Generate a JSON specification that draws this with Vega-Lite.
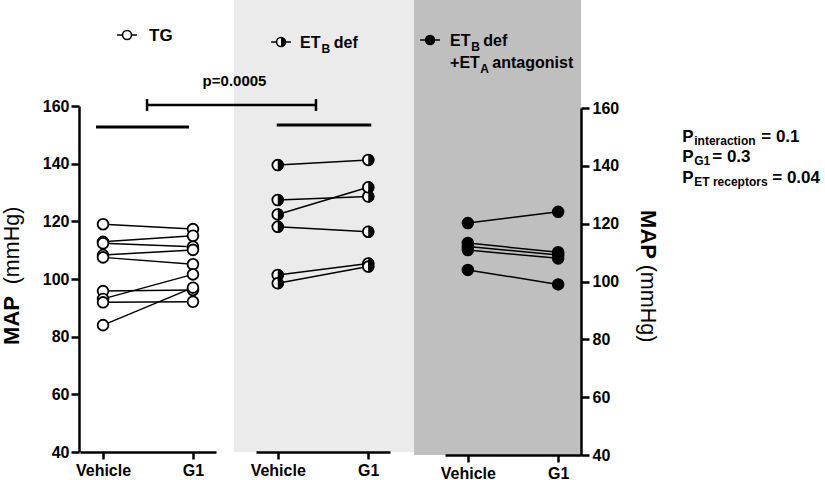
{
 "$schema": "https://vega.github.io/schema/vega-lite/v6.json",
 "padding": 0,
 "background": "white",
 "bounds": "flush",
 "spacing": 0,
 "config": {
  "view": {"stroke": null},
  "font": "Liberation Sans",
  "axis": {"domainColor": "black", "domainWidth": 2.5, "tickColor": "black", "tickWidth": 2.5, "tickSize": 8, "labelFont": "Liberation Sans", "labelFontWeight": "bold", "labelFontSize": 16, "labelColor": "black", "grid": false, "titleFont": "Liberation Sans", "titleColor": "black"},
  "text": {"font": "Liberation Sans", "fontWeight": "bold", "color": "black"}
 },
 "datasets": {
  "map": [
   {"group": "TG", "subject": "TG-1", "treatment": "Vehicle", "map": 119.0},
   {"group": "TG", "subject": "TG-1", "treatment": "G1", "map": 117.3},
   {"group": "TG", "subject": "TG-2", "treatment": "Vehicle", "map": 112.9},
   {"group": "TG", "subject": "TG-2", "treatment": "G1", "map": 115.0},
   {"group": "TG", "subject": "TG-3", "treatment": "Vehicle", "map": 112.4},
   {"group": "TG", "subject": "TG-3", "treatment": "G1", "map": 111.2},
   {"group": "TG", "subject": "TG-4", "treatment": "Vehicle", "map": 108.3},
   {"group": "TG", "subject": "TG-4", "treatment": "G1", "map": 110.1},
   {"group": "TG", "subject": "TG-5", "treatment": "Vehicle", "map": 107.5},
   {"group": "TG", "subject": "TG-5", "treatment": "G1", "map": 105.1},
   {"group": "TG", "subject": "TG-6", "treatment": "Vehicle", "map": 95.8},
   {"group": "TG", "subject": "TG-6", "treatment": "G1", "map": 96.2},
   {"group": "TG", "subject": "TG-7", "treatment": "Vehicle", "map": 93.1},
   {"group": "TG", "subject": "TG-7", "treatment": "G1", "map": 101.6},
   {"group": "TG", "subject": "TG-8", "treatment": "Vehicle", "map": 91.9},
   {"group": "TG", "subject": "TG-8", "treatment": "G1", "map": 92.1},
   {"group": "TG", "subject": "TG-9", "treatment": "Vehicle", "map": 84.0},
   {"group": "TG", "subject": "TG-9", "treatment": "G1", "map": 97.0},
   {"group": "ETB def", "subject": "ETB-1", "treatment": "Vehicle", "map": 139.5},
   {"group": "ETB def", "subject": "ETB-1", "treatment": "G1", "map": 141.3},
   {"group": "ETB def", "subject": "ETB-2", "treatment": "Vehicle", "map": 127.4},
   {"group": "ETB def", "subject": "ETB-2", "treatment": "G1", "map": 128.6},
   {"group": "ETB def", "subject": "ETB-3", "treatment": "Vehicle", "map": 122.4},
   {"group": "ETB def", "subject": "ETB-3", "treatment": "G1", "map": 131.8},
   {"group": "ETB def", "subject": "ETB-4", "treatment": "Vehicle", "map": 118.1},
   {"group": "ETB def", "subject": "ETB-4", "treatment": "G1", "map": 116.4},
   {"group": "ETB def", "subject": "ETB-5", "treatment": "Vehicle", "map": 101.4},
   {"group": "ETB def", "subject": "ETB-5", "treatment": "G1", "map": 105.4},
   {"group": "ETB def", "subject": "ETB-6", "treatment": "Vehicle", "map": 98.5},
   {"group": "ETB def", "subject": "ETB-6", "treatment": "G1", "map": 104.3},
   {"group": "ETB def + ETA antagonist", "subject": "ETA-1", "treatment": "Vehicle", "map": 120.2},
   {"group": "ETB def + ETA antagonist", "subject": "ETA-1", "treatment": "G1", "map": 124.1},
   {"group": "ETB def + ETA antagonist", "subject": "ETA-2", "treatment": "Vehicle", "map": 113.3},
   {"group": "ETB def + ETA antagonist", "subject": "ETA-2", "treatment": "G1", "map": 110.1},
   {"group": "ETB def + ETA antagonist", "subject": "ETA-3", "treatment": "Vehicle", "map": 112.1},
   {"group": "ETB def + ETA antagonist", "subject": "ETA-3", "treatment": "G1", "map": 109.2},
   {"group": "ETB def + ETA antagonist", "subject": "ETA-4", "treatment": "Vehicle", "map": 110.9},
   {"group": "ETB def + ETA antagonist", "subject": "ETA-4", "treatment": "G1", "map": 108.0},
   {"group": "ETB def + ETA antagonist", "subject": "ETA-5", "treatment": "Vehicle", "map": 104.0},
   {"group": "ETB def + ETA antagonist", "subject": "ETA-5", "treatment": "G1", "map": 99.0}
  ]
 },
 "hconcat": [
  {"width": 79, "height": 452, "data": {"values": [{}]}, "mark": {"type": "text", "text": ""}},
  {
   "width": 155, "height": 452,
   "layer": [
    {"data": {"name": "map"}, "transform": [{"filter": "datum.group == 'TG'"}],
     "mark": {"type": "line", "color": "black", "strokeWidth": 1.5},
     "encoding": {
      "x": {"field": "treatment", "type": "nominal", "sort": null, "scale": {"type": "point", "domain": ["Vehicle", "G1"], "range": [1, 137], "padding": 0.256}, "axis": {"title": null, "labelAngle": 0, "tickSize": 7, "labelPadding": 3}},
      "y": {"field": "map", "type": "quantitative", "scale": {"domain": [40, 160], "range": [452, 106], "nice": false, "zero": false}, "axis": {"orient": "left", "values": [40, 60, 80, 100, 120, 140, 160], "labelPadding": 2, "title": "MAP", "titleFontSize": 22, "titleFontWeight": "bold", "titleAngle": -90, "titleX": -61, "titleY": 320, "titleAlign": "center", "titleBaseline": "alphabetic"}},
      "detail": {"field": "subject"}
     }},
    {"data": {"name": "map"}, "transform": [{"filter": "datum.group == 'TG'"}],
     "mark": {"type": "point", "shape": "circle", "filled": true, "fill": "white", "stroke": "black", "strokeWidth": 1.8, "size": 115, "opacity": 1},
     "encoding": {
      "x": {"field": "treatment", "type": "nominal", "sort": null},
      "y": {"field": "map", "type": "quantitative", "axis": {"orient": "left", "domain": false, "ticks": false, "labels": false, "title": "(mmHg)", "titleFontSize": 21.5, "titleFontWeight": "normal", "titleAngle": -90, "titleX": -61, "titleY": 245, "titleAlign": "center", "titleBaseline": "alphabetic"}}
     }},
    {"data": {"values": [{}]},
     "mark": {"type": "rule", "color": "black", "strokeWidth": 3, "xOffset": -7, "x2Offset": -4},
     "encoding": {"x": {"datum": "Vehicle", "type": "nominal"}, "x2": {"datum": "G1"}, "y": {"datum": 152.7, "type": "quantitative", "axis": null}}},
    {"data": {"values": [{}]},
     "mark": {"type": "point", "shape": "M-2.2,0H-1M1,0H2.2M1,0A1,1,0,1,1,-1,0A1,1,0,1,1,1,0Z", "filled": true, "fill": "white", "stroke": "black", "strokeWidth": 1.6, "size": 81, "opacity": 1, "xOffset": 24},
     "encoding": {"x": {"datum": "Vehicle", "type": "nominal"}, "y": {"datum": 184.6, "type": "quantitative", "axis": null}}},
    {"data": {"values": [{}]},
     "mark": {"type": "text", "text": "TG", "align": "left", "baseline": "alphabetic", "fontSize": 17, "dx": 46},
     "encoding": {"x": {"datum": "Vehicle", "type": "nominal"}, "y": {"datum": 182.5, "type": "quantitative", "axis": null}}}
   ],
   "resolve": {"axis": {"y": "independent"}}
  },
  {
   "width": 180, "height": 452,
   "view": {"fill": "#ebebeb", "stroke": null},
   "layer": [
    {"data": {"name": "map"}, "transform": [{"filter": "datum.group == 'ETB def'"}],
     "mark": {"type": "line", "color": "black", "strokeWidth": 1.5},
     "encoding": {
      "x": {"field": "treatment", "type": "nominal", "sort": null, "scale": {"type": "point", "domain": ["Vehicle", "G1"], "range": [22, 156], "padding": 0.24}, "axis": {"title": null, "labelAngle": 0, "tickSize": 7, "labelPadding": 3}},
      "y": {"field": "map", "type": "quantitative", "scale": {"domain": [40, 160], "range": [452, 106], "nice": false, "zero": false}, "axis": null},
      "detail": {"field": "subject"}
     }},
    {"data": {"name": "map"}, "transform": [{"filter": "datum.group == 'ETB def'"}],
     "mark": {"type": "point", "shape": "circle", "filled": true, "fill": "white", "stroke": "black", "strokeWidth": 1.8, "size": 115, "opacity": 1},
     "encoding": {"x": {"field": "treatment", "type": "nominal", "sort": null}, "y": {"field": "map", "type": "quantitative", "axis": null}}},
    {"data": {"name": "map"}, "transform": [{"filter": "datum.group == 'ETB def'"}],
     "mark": {"type": "point", "shape": "M0,-1A1,1,0,0,1,0,1Z", "filled": true, "fill": "black", "strokeWidth": 0, "size": 146, "opacity": 1},
     "encoding": {"x": {"field": "treatment", "type": "nominal", "sort": null}, "y": {"field": "map", "type": "quantitative", "axis": null}}},
    {"data": {"values": [{}]},
     "mark": {"type": "rule", "color": "black", "strokeWidth": 3, "xOffset": -1, "x2Offset": 3},
     "encoding": {"x": {"datum": "Vehicle", "type": "nominal"}, "x2": {"datum": "G1"}, "y": {"datum": 153.4, "type": "quantitative", "axis": null}}},
    {"data": {"values": [{}]},
     "mark": {"type": "rule", "color": "black", "strokeWidth": 2.5, "xOffset": -130.7, "x2Offset": -52.3},
     "encoding": {"x": {"datum": "Vehicle", "type": "nominal"}, "x2": {"datum": "G1"}, "y": {"datum": 160.35, "type": "quantitative", "axis": null}}},
    {"data": {"values": [{}]},
     "mark": {"type": "rule", "color": "black", "strokeWidth": 2.5, "xOffset": -130.7},
     "encoding": {"x": {"datum": "Vehicle", "type": "nominal"}, "y": {"datum": 162.4, "type": "quantitative", "axis": null}, "y2": {"datum": 158.3}}},
    {"data": {"values": [{}]},
     "mark": {"type": "rule", "color": "black", "strokeWidth": 2.5, "xOffset": -52.3},
     "encoding": {"x": {"datum": "G1", "type": "nominal"}, "y": {"datum": 162.4, "type": "quantitative", "axis": null}, "y2": {"datum": 158.3}}},
    {"data": {"values": [{}]},
     "mark": {"type": "text", "text": "p=0.0005", "align": "center", "baseline": "alphabetic", "fontSize": 15, "dx": -43.2},
     "encoding": {"x": {"datum": "Vehicle", "type": "nominal"}, "y": {"datum": 167.1, "type": "quantitative", "axis": null}}},
    {"data": {"values": [{}]},
     "mark": {"type": "point", "shape": "M-2.2,0H-1M1,0H2.2M1,0A1,1,0,1,1,-1,0A1,1,0,1,1,1,0Z", "filled": true, "fill": "white", "stroke": "black", "strokeWidth": 1.6, "size": 81, "opacity": 1, "xOffset": 3.3},
     "encoding": {"x": {"datum": "Vehicle", "type": "nominal"}, "y": {"datum": 182.2, "type": "quantitative", "axis": null}}},
    {"data": {"values": [{}]},
     "mark": {"type": "point", "shape": "M0,-1A1,1,0,0,1,0,1Z", "filled": true, "fill": "black", "strokeWidth": 0, "size": 81, "opacity": 1, "xOffset": 3.3},
     "encoding": {"x": {"datum": "Vehicle", "type": "nominal"}, "y": {"datum": 182.2, "type": "quantitative", "axis": null}}},
    {"data": {"values": [{}]},
     "mark": {"type": "text", "text": "ET", "align": "left", "baseline": "alphabetic", "fontSize": 16, "dx": 22.3},
     "encoding": {"x": {"datum": "Vehicle", "type": "nominal"}, "y": {"datum": 180.1, "type": "quantitative", "axis": null}}},
    {"data": {"values": [{}]},
     "mark": {"type": "text", "text": "B", "align": "left", "baseline": "alphabetic", "fontSize": 12, "dx": 43.8, "dy": 5},
     "encoding": {"x": {"datum": "Vehicle", "type": "nominal"}, "y": {"datum": 180.1, "type": "quantitative", "axis": null}}},
    {"data": {"values": [{}]},
     "mark": {"type": "text", "text": "def", "align": "left", "baseline": "alphabetic", "fontSize": 16, "dx": 56},
     "encoding": {"x": {"datum": "Vehicle", "type": "nominal"}, "y": {"datum": 180.1, "type": "quantitative", "axis": null}}}
   ]
  },
  {
   "width": 167, "height": 455,
   "view": {"fill": "#bfbfbf", "stroke": null},
   "layer": [
    {"data": {"name": "map"}, "transform": [{"filter": "datum.group == 'ETB def + ETA antagonist'"}],
     "mark": {"type": "line", "color": "black", "strokeWidth": 1.5},
     "encoding": {
      "x": {"field": "treatment", "type": "nominal", "sort": null, "scale": {"type": "point", "domain": ["Vehicle", "G1"], "range": [31, 167], "padding": 0.253}, "axis": {"title": null, "labelAngle": 0, "tickSize": 7, "labelPadding": 3}},
      "y": {"field": "map", "type": "quantitative", "scale": {"domain": [40, 160], "range": [455, 108], "nice": false, "zero": false}, "axis": {"orient": "right", "values": [40, 60, 80, 100, 120, 140, 160], "labelPadding": 3, "title": "MAP", "titleFontSize": 22, "titleFontWeight": "bold", "titleAngle": 90, "titleX": 59, "titleY": 234, "titleAlign": "center", "titleBaseline": "alphabetic"}},
      "detail": {"field": "subject"}
     }},
    {"data": {"name": "map"}, "transform": [{"filter": "datum.group == 'ETB def + ETA antagonist'"}],
     "mark": {"type": "point", "shape": "circle", "filled": true, "fill": "black", "stroke": "black", "strokeWidth": 1.8, "size": 115, "opacity": 1},
     "encoding": {
      "x": {"field": "treatment", "type": "nominal", "sort": null},
      "y": {"field": "map", "type": "quantitative", "axis": {"orient": "right", "domain": false, "ticks": false, "labels": false, "title": "(mmHg)", "titleFontSize": 21.5, "titleFontWeight": "normal", "titleAngle": 90, "titleX": 59, "titleY": 303, "titleAlign": "center", "titleBaseline": "alphabetic"}}
     }},
    {"data": {"values": [{}]},
     "mark": {"type": "point", "shape": "M-2.2,0H-1M1,0H2.2M1,0A1,1,0,1,1,-1,0A1,1,0,1,1,1,0Z", "filled": true, "fill": "black", "stroke": "black", "strokeWidth": 1.6, "size": 81, "opacity": 1, "xOffset": -37.8},
     "encoding": {"x": {"datum": "Vehicle", "type": "nominal"}, "y": {"datum": 183.5, "type": "quantitative", "axis": null}}},
    {"data": {"values": [{}]},
     "mark": {"type": "text", "text": "ET", "align": "left", "baseline": "alphabetic", "fontSize": 16, "dx": -17.8},
     "encoding": {"x": {"datum": "Vehicle", "type": "nominal"}, "y": {"datum": 181.4, "type": "quantitative", "axis": null}}},
    {"data": {"values": [{}]},
     "mark": {"type": "text", "text": "B", "align": "left", "baseline": "alphabetic", "fontSize": 12, "dx": 3.5, "dy": 5},
     "encoding": {"x": {"datum": "Vehicle", "type": "nominal"}, "y": {"datum": 181.4, "type": "quantitative", "axis": null}}},
    {"data": {"values": [{}]},
     "mark": {"type": "text", "text": "def", "align": "left", "baseline": "alphabetic", "fontSize": 16, "dx": 15.5},
     "encoding": {"x": {"datum": "Vehicle", "type": "nominal"}, "y": {"datum": 181.4, "type": "quantitative", "axis": null}}},
    {"data": {"values": [{}]},
     "mark": {"type": "text", "text": "+ET", "align": "left", "baseline": "alphabetic", "fontSize": 16, "dx": -17.8},
     "encoding": {"x": {"datum": "Vehicle", "type": "nominal"}, "y": {"datum": 173.8, "type": "quantitative", "axis": null}}},
    {"data": {"values": [{}]},
     "mark": {"type": "text", "text": "A", "align": "left", "baseline": "alphabetic", "fontSize": 12, "dx": 12.5, "dy": 5},
     "encoding": {"x": {"datum": "Vehicle", "type": "nominal"}, "y": {"datum": 173.8, "type": "quantitative", "axis": null}}},
    {"data": {"values": [{}]},
     "mark": {"type": "text", "text": "antagonist", "align": "left", "baseline": "alphabetic", "fontSize": 16, "dx": 24.5},
     "encoding": {"x": {"datum": "Vehicle", "type": "nominal"}, "y": {"datum": 173.8, "type": "quantitative", "axis": null}}}
   ],
   "resolve": {"axis": {"y": "independent"}}
  },
  {
   "width": 244, "height": 452,
   "data": {"values": [{}]},
   "encoding": {
    "x": {"datum": 0.415, "type": "quantitative", "scale": {"domain": [0, 1]}, "axis": null}
   },
   "layer": [
    {"mark": {"type": "text", "text": "P", "align": "left", "baseline": "alphabetic", "fontSize": 17},
     "encoding": {"y": {"datum": 147.5, "type": "quantitative", "scale": {"domain": [40, 160], "range": [452, 106], "nice": false, "zero": false}, "axis": null}}},
    {"mark": {"type": "text", "text": "interaction", "align": "left", "baseline": "alphabetic", "fontSize": 12, "dx": 12, "dy": 3},
     "encoding": {"y": {"datum": 147.5, "type": "quantitative", "axis": null}}},
    {"mark": {"type": "text", "text": "= 0.1", "align": "left", "baseline": "alphabetic", "fontSize": 17, "dx": 79},
     "encoding": {"y": {"datum": 147.5, "type": "quantitative", "axis": null}}},
    {"mark": {"type": "text", "text": "P", "align": "left", "baseline": "alphabetic", "fontSize": 17},
     "encoding": {"y": {"datum": 140.7, "type": "quantitative", "axis": null}}},
    {"mark": {"type": "text", "text": "G1", "align": "left", "baseline": "alphabetic", "fontSize": 12, "dx": 12, "dy": 3},
     "encoding": {"y": {"datum": 140.7, "type": "quantitative", "axis": null}}},
    {"mark": {"type": "text", "text": "= 0.3", "align": "left", "baseline": "alphabetic", "fontSize": 17, "dx": 30},
     "encoding": {"y": {"datum": 140.7, "type": "quantitative", "axis": null}}},
    {"mark": {"type": "text", "text": "P", "align": "left", "baseline": "alphabetic", "fontSize": 17},
     "encoding": {"y": {"datum": 133.3, "type": "quantitative", "axis": null}}},
    {"mark": {"type": "text", "text": "ET receptors", "align": "left", "baseline": "alphabetic", "fontSize": 12, "dx": 12, "dy": 3},
     "encoding": {"y": {"datum": 133.3, "type": "quantitative", "axis": null}}},
    {"mark": {"type": "text", "text": "= 0.04", "align": "left", "baseline": "alphabetic", "fontSize": 17, "dx": 90},
     "encoding": {"y": {"datum": 133.3, "type": "quantitative", "axis": null}}}
   ]
  }
 ]
}
